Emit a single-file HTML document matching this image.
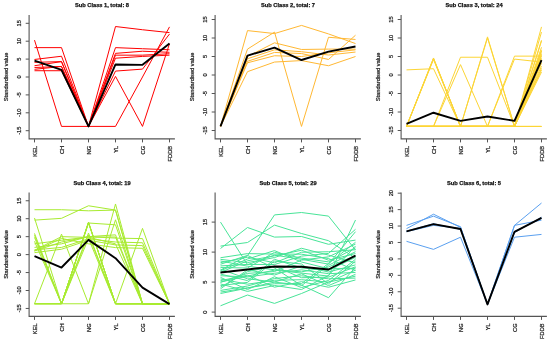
<!DOCTYPE html>
<html><head><meta charset="utf-8"><style>
html,body{margin:0;padding:0;background:#fff;}
svg{display:block;font-family:"Liberation Sans", sans-serif;will-change:transform;}
</style></head><body>
<svg width="550" height="342" viewBox="0 0 550 342">
<rect width="550" height="342" fill="#fff"/>
<g fill="none" stroke="#FF0000" stroke-width="1.0" stroke-linejoin="round"><polyline points="34.50,40.13 61.50,126.40 88.50,126.40 115.50,126.40 142.50,77.00 169.50,26.88"/><polyline points="34.50,47.64 61.50,47.64 88.50,126.40 115.50,47.64 142.50,48.72 169.50,49.79"/><polyline points="34.50,59.46 61.50,56.24 88.50,126.40 115.50,26.52 142.50,29.74 169.50,32.61"/><polyline points="34.50,62.32 61.50,61.61 88.50,126.40 115.50,53.37 142.50,51.22 169.50,52.30"/><polyline points="34.50,65.72 61.50,61.61 88.50,126.40 115.50,55.16 142.50,55.16 169.50,53.73"/><polyline points="34.50,67.51 61.50,66.44 88.50,126.40 115.50,58.20 142.50,56.41 169.50,55.16"/><polyline points="34.50,69.30 61.50,66.44 88.50,126.40 115.50,71.09 142.50,69.12 169.50,34.04"/><polyline points="34.50,70.73 61.50,70.73 88.50,126.40 115.50,76.39 142.50,126.40 169.50,43.71"/></g>
<polyline points="34.50,60.71 61.50,69.84 88.50,126.40 115.50,64.47 142.50,64.83 169.50,43.53" fill="none" stroke="#000" stroke-width="1.9" stroke-linejoin="round"/>
<path d="M29.10,15.00 V138.90 H174.90" fill="none" stroke="#555" stroke-width="1.1"/>
<path d="M25.70,130.70 H29.10 M25.70,112.80 H29.10 M25.70,94.90 H29.10 M25.70,77.00 H29.10 M25.70,59.10 H29.10 M25.70,41.20 H29.10 M25.70,23.30 H29.10 M34.50,138.90 V142.40 M61.50,138.90 V142.40 M88.50,138.90 V142.40 M115.50,138.90 V142.40 M142.50,138.90 V142.40 M169.50,138.90 V142.40" fill="none" stroke="#555" stroke-width="1.0"/>
<g font-size="5.7" text-anchor="middle" fill="#222" stroke="#222" stroke-width="0.22"><text transform="translate(21.10,130.70) rotate(-90)">-15</text><text transform="translate(21.10,112.80) rotate(-90)">-10</text><text transform="translate(21.10,94.90) rotate(-90)">-5</text><text transform="translate(21.10,77.00) rotate(-90)">0</text><text transform="translate(21.10,59.10) rotate(-90)">5</text><text transform="translate(21.10,41.20) rotate(-90)">10</text><text transform="translate(21.10,23.30) rotate(-90)">15</text></g>
<g font-size="5.7" text-anchor="end" fill="#222" stroke="#222" stroke-width="0.22"><text transform="translate(36.50,145.90) rotate(-90)">KEL</text><text transform="translate(63.50,145.90) rotate(-90)">CH</text><text transform="translate(90.50,145.90) rotate(-90)">NG</text><text transform="translate(117.50,145.90) rotate(-90)">YL</text><text transform="translate(144.50,145.90) rotate(-90)">CG</text><text transform="translate(171.50,145.90) rotate(-90)">FDDB</text></g>
<text transform="translate(7.90,76.95) rotate(-90)" font-size="5.7" text-anchor="middle" fill="#222" stroke="#222" stroke-width="0.22">Standardised value</text>
<text x="102.00" y="7.00" font-size="5.7" font-weight="bold" text-anchor="middle" fill="#111" stroke="#111" stroke-width="0.25">Sub Class 1, total: 8</text>
<g fill="none" stroke="#FFB833" stroke-width="1.0" stroke-linejoin="round"><polyline points="220.50,126.43 247.50,30.60 274.50,33.56 301.50,25.42 328.50,33.93 355.50,43.55"/><polyline points="220.50,126.43 247.50,49.10 274.50,32.08 301.50,126.43 328.50,37.26 355.50,39.48"/><polyline points="220.50,126.43 247.50,56.50 274.50,42.81 301.50,49.47 328.50,49.10 355.50,49.10"/><polyline points="220.50,126.43 247.50,58.72 274.50,49.84 301.50,51.69 328.50,55.02 355.50,52.06"/><polyline points="220.50,126.43 247.50,61.31 274.50,52.43 301.50,53.54 328.50,59.46 355.50,35.23"/><polyline points="220.50,126.43 247.50,62.79 274.50,55.76 301.50,56.50 328.50,52.80 355.50,49.84"/><polyline points="220.50,126.43 247.50,71.67 274.50,62.05 301.50,60.57 328.50,65.75 355.50,56.50"/></g>
<polyline points="220.50,126.43 247.50,55.58 274.50,47.62 301.50,60.02 328.50,51.69 355.50,46.51" fill="none" stroke="#000" stroke-width="1.9" stroke-linejoin="round"/>
<path d="M215.10,15.00 V138.90 H360.90" fill="none" stroke="#555" stroke-width="1.1"/>
<path d="M211.70,130.50 H215.10 M211.70,112.00 H215.10 M211.70,93.50 H215.10 M211.70,75.00 H215.10 M211.70,56.50 H215.10 M211.70,38.00 H215.10 M211.70,19.50 H215.10 M220.50,138.90 V142.40 M247.50,138.90 V142.40 M274.50,138.90 V142.40 M301.50,138.90 V142.40 M328.50,138.90 V142.40 M355.50,138.90 V142.40" fill="none" stroke="#555" stroke-width="1.0"/>
<g font-size="5.7" text-anchor="middle" fill="#222" stroke="#222" stroke-width="0.22"><text transform="translate(207.10,130.50) rotate(-90)">-15</text><text transform="translate(207.10,112.00) rotate(-90)">-10</text><text transform="translate(207.10,93.50) rotate(-90)">-5</text><text transform="translate(207.10,75.00) rotate(-90)">0</text><text transform="translate(207.10,56.50) rotate(-90)">5</text><text transform="translate(207.10,38.00) rotate(-90)">10</text><text transform="translate(207.10,19.50) rotate(-90)">15</text></g>
<g font-size="5.7" text-anchor="end" fill="#222" stroke="#222" stroke-width="0.22"><text transform="translate(222.50,145.90) rotate(-90)">KEL</text><text transform="translate(249.50,145.90) rotate(-90)">CH</text><text transform="translate(276.50,145.90) rotate(-90)">NG</text><text transform="translate(303.50,145.90) rotate(-90)">YL</text><text transform="translate(330.50,145.90) rotate(-90)">CG</text><text transform="translate(357.50,145.90) rotate(-90)">FDDB</text></g>
<text transform="translate(193.90,76.95) rotate(-90)" font-size="5.7" text-anchor="middle" fill="#222" stroke="#222" stroke-width="0.22">Standardised value</text>
<text x="288.00" y="7.00" font-size="5.7" font-weight="bold" text-anchor="middle" fill="#111" stroke="#111" stroke-width="0.25">Sub Class 2, total: 7</text>
<g fill="none" stroke="#FCD535" stroke-width="1.0" stroke-linejoin="round"><polyline points="406.50,69.89 433.50,68.71 460.50,126.43 487.50,126.43 514.50,126.43 541.50,58.35"/><polyline points="406.50,126.43 433.50,57.98 460.50,126.43 487.50,126.43 514.50,126.43 541.50,26.90"/><polyline points="406.50,126.43 433.50,58.35 460.50,126.43 487.50,126.43 514.50,126.43 541.50,40.96"/><polyline points="406.50,126.43 433.50,58.72 460.50,126.43 487.50,126.43 514.50,126.43 541.50,54.65"/><polyline points="406.50,126.43 433.50,59.46 460.50,126.43 487.50,126.43 514.50,126.43 541.50,66.12"/><polyline points="406.50,126.43 433.50,126.43 460.50,57.24 487.50,57.24 514.50,126.43 541.50,32.08"/><polyline points="406.50,126.43 433.50,126.43 460.50,64.64 487.50,126.43 514.50,126.43 541.50,70.00"/><polyline points="406.50,126.43 433.50,126.43 460.50,126.43 487.50,36.89 514.50,126.43 541.50,50.95"/><polyline points="406.50,126.43 433.50,126.43 460.50,126.43 487.50,38.00 514.50,126.43 541.50,60.57"/><polyline points="406.50,126.43 433.50,126.43 460.50,126.43 487.50,126.43 514.50,56.13 541.50,56.13"/><polyline points="406.50,126.43 433.50,126.43 460.50,126.43 487.50,126.43 514.50,59.09 541.50,62.05"/><polyline points="406.50,126.43 433.50,126.43 460.50,126.43 487.50,126.43 514.50,126.43 541.50,126.43"/><polyline points="406.50,126.43 433.50,126.43 460.50,126.43 487.50,126.43 514.50,126.43 541.50,126.43"/><polyline points="406.50,126.43 433.50,126.43 460.50,126.43 487.50,126.43 514.50,126.43 541.50,126.43"/><polyline points="406.50,126.43 433.50,126.43 460.50,126.43 487.50,126.43 514.50,126.43 541.50,40.22"/><polyline points="406.50,126.43 433.50,126.43 460.50,126.43 487.50,126.43 514.50,126.43 541.50,47.25"/><polyline points="406.50,126.43 433.50,126.43 460.50,126.43 487.50,126.43 514.50,126.43 541.50,49.84"/><polyline points="406.50,126.43 433.50,126.43 460.50,126.43 487.50,126.43 514.50,126.43 541.50,50.95"/><polyline points="406.50,126.43 433.50,126.43 460.50,126.43 487.50,126.43 514.50,126.43 541.50,53.54"/><polyline points="406.50,126.43 433.50,126.43 460.50,126.43 487.50,126.43 514.50,126.43 541.50,56.13"/><polyline points="406.50,126.43 433.50,126.43 460.50,126.43 487.50,126.43 514.50,126.43 541.50,59.46"/><polyline points="406.50,126.43 433.50,126.43 460.50,126.43 487.50,126.43 514.50,126.43 541.50,63.16"/><polyline points="406.50,126.43 433.50,126.43 460.50,126.43 487.50,126.43 514.50,126.43 541.50,68.34"/><polyline points="406.50,126.43 433.50,126.43 460.50,126.43 487.50,126.43 514.50,126.43 541.50,72.04"/></g>
<polyline points="406.50,123.84 433.50,112.74 460.50,120.88 487.50,116.44 514.50,120.88 541.50,60.02" fill="none" stroke="#000" stroke-width="1.9" stroke-linejoin="round"/>
<path d="M401.10,15.00 V138.90 H546.90" fill="none" stroke="#555" stroke-width="1.1"/>
<path d="M397.70,130.50 H401.10 M397.70,112.00 H401.10 M397.70,93.50 H401.10 M397.70,75.00 H401.10 M397.70,56.50 H401.10 M397.70,38.00 H401.10 M397.70,19.50 H401.10 M406.50,138.90 V142.40 M433.50,138.90 V142.40 M460.50,138.90 V142.40 M487.50,138.90 V142.40 M514.50,138.90 V142.40 M541.50,138.90 V142.40" fill="none" stroke="#555" stroke-width="1.0"/>
<g font-size="5.7" text-anchor="middle" fill="#222" stroke="#222" stroke-width="0.22"><text transform="translate(393.10,130.50) rotate(-90)">-15</text><text transform="translate(393.10,112.00) rotate(-90)">-10</text><text transform="translate(393.10,93.50) rotate(-90)">-5</text><text transform="translate(393.10,75.00) rotate(-90)">0</text><text transform="translate(393.10,56.50) rotate(-90)">5</text><text transform="translate(393.10,38.00) rotate(-90)">10</text><text transform="translate(393.10,19.50) rotate(-90)">15</text></g>
<g font-size="5.7" text-anchor="end" fill="#222" stroke="#222" stroke-width="0.22"><text transform="translate(408.50,145.90) rotate(-90)">KEL</text><text transform="translate(435.50,145.90) rotate(-90)">CH</text><text transform="translate(462.50,145.90) rotate(-90)">NG</text><text transform="translate(489.50,145.90) rotate(-90)">YL</text><text transform="translate(516.50,145.90) rotate(-90)">CG</text><text transform="translate(543.50,145.90) rotate(-90)">FDDB</text></g>
<text transform="translate(379.90,76.95) rotate(-90)" font-size="5.7" text-anchor="middle" fill="#222" stroke="#222" stroke-width="0.22">Standardised value</text>
<text x="474.00" y="7.00" font-size="5.7" font-weight="bold" text-anchor="middle" fill="#111" stroke="#111" stroke-width="0.25">Sub Class 3, total: 24</text>
<g fill="none" stroke="#A8EB30" stroke-width="1.0" stroke-linejoin="round"><polyline points="34.50,303.78 61.50,303.78 88.50,303.78 115.50,203.98 142.50,303.78 169.50,303.78"/><polyline points="34.50,303.78 61.50,303.78 88.50,222.29 115.50,303.78 142.50,228.39 169.50,303.78"/><polyline points="34.50,303.78 61.50,303.78 88.50,222.29 115.50,303.78 142.50,303.78 169.50,303.78"/><polyline points="34.50,303.78 61.50,303.78 88.50,223.01 115.50,224.80 142.50,303.78 169.50,303.78"/><polyline points="34.50,303.78 61.50,234.14 88.50,303.78 115.50,219.78 142.50,303.78 169.50,303.78"/><polyline points="34.50,217.98 61.50,303.78 88.50,222.29 115.50,303.78 142.50,303.78 169.50,303.78"/><polyline points="34.50,233.42 61.50,303.78 88.50,223.01 115.50,303.78 142.50,303.78 169.50,303.78"/><polyline points="34.50,235.21 61.50,303.78 88.50,234.85 115.50,303.78 142.50,303.78 169.50,303.78"/><polyline points="34.50,237.37 61.50,303.78 88.50,238.44 115.50,303.78 142.50,303.78 169.50,303.78"/><polyline points="34.50,241.32 61.50,303.78 88.50,233.06 115.50,303.78 142.50,303.78 169.50,303.78"/><polyline points="34.50,209.72 61.50,209.72 88.50,210.80 115.50,210.08 142.50,303.78 169.50,303.78"/><polyline points="34.50,220.14 61.50,218.34 88.50,205.78 115.50,210.08 142.50,303.78 169.50,303.78"/><polyline points="34.50,243.83 61.50,240.24 88.50,237.01 115.50,237.01 142.50,303.78 169.50,303.78"/><polyline points="34.50,247.42 61.50,243.83 88.50,236.65 115.50,238.09 142.50,238.62 169.50,303.78"/><polyline points="34.50,249.93 61.50,247.42 88.50,238.80 115.50,242.03 142.50,242.75 169.50,303.78"/><polyline points="34.50,252.63 61.50,249.22 88.50,240.24 115.50,244.91 142.50,245.62 169.50,303.78"/><polyline points="34.50,251.01 61.50,238.44 88.50,243.83 115.50,247.60 142.50,248.32 169.50,303.78"/><polyline points="34.50,251.01 61.50,242.03 88.50,236.65 115.50,234.85 142.50,303.78 169.50,303.78"/><polyline points="34.50,250.29 61.50,236.65 88.50,237.37 115.50,243.83 142.50,303.78 169.50,303.78"/></g>
<polyline points="34.50,256.04 61.50,267.52 88.50,239.88 115.50,258.19 142.50,287.63 169.50,304.14" fill="none" stroke="#000" stroke-width="1.9" stroke-linejoin="round"/>
<path d="M29.10,192.50 V316.40 H174.90" fill="none" stroke="#555" stroke-width="1.1"/>
<path d="M25.70,308.45 H29.10 M25.70,290.50 H29.10 M25.70,272.55 H29.10 M25.70,254.60 H29.10 M25.70,236.65 H29.10 M25.70,218.70 H29.10 M25.70,200.75 H29.10 M34.50,316.40 V319.90 M61.50,316.40 V319.90 M88.50,316.40 V319.90 M115.50,316.40 V319.90 M142.50,316.40 V319.90 M169.50,316.40 V319.90" fill="none" stroke="#555" stroke-width="1.0"/>
<g font-size="5.7" text-anchor="middle" fill="#222" stroke="#222" stroke-width="0.22"><text transform="translate(21.10,308.45) rotate(-90)">-15</text><text transform="translate(21.10,290.50) rotate(-90)">-10</text><text transform="translate(21.10,272.55) rotate(-90)">-5</text><text transform="translate(21.10,254.60) rotate(-90)">0</text><text transform="translate(21.10,236.65) rotate(-90)">5</text><text transform="translate(21.10,218.70) rotate(-90)">10</text><text transform="translate(21.10,200.75) rotate(-90)">15</text></g>
<g font-size="5.7" text-anchor="end" fill="#222" stroke="#222" stroke-width="0.22"><text transform="translate(36.50,323.40) rotate(-90)">KEL</text><text transform="translate(63.50,323.40) rotate(-90)">CH</text><text transform="translate(90.50,323.40) rotate(-90)">NG</text><text transform="translate(117.50,323.40) rotate(-90)">YL</text><text transform="translate(144.50,323.40) rotate(-90)">CG</text><text transform="translate(171.50,323.40) rotate(-90)">FDDB</text></g>
<text transform="translate(7.90,254.45) rotate(-90)" font-size="5.7" text-anchor="middle" fill="#222" stroke="#222" stroke-width="0.22">Standardised value</text>
<text x="102.00" y="184.50" font-size="5.7" font-weight="bold" text-anchor="middle" fill="#111" stroke="#111" stroke-width="0.25">Sub Class 4, total: 19</text>
<g fill="none" stroke="#48E498" stroke-width="1.0" stroke-linejoin="round"><polyline points="220.50,222.10 247.50,264.70 274.50,255.10 301.50,259.30 328.50,264.10 355.50,231.70"/><polyline points="220.50,246.10 247.50,242.50 274.50,225.10 301.50,233.50 328.50,240.70 355.50,258.10"/><polyline points="220.50,248.50 247.50,227.50 274.50,237.10 301.50,236.50 328.50,244.30 355.50,240.10"/><polyline points="220.50,270.10 247.50,255.70 274.50,214.90 301.50,212.50 328.50,216.10 355.50,250.00"/><polyline points="220.50,305.80 247.50,295.00 274.50,303.40 301.50,293.50 328.50,282.10 355.50,270.10"/><polyline points="220.50,282.10 247.50,276.10 274.50,270.10 301.50,273.10 328.50,276.10 355.50,220.00"/><polyline points="220.50,293.50 247.50,288.10 274.50,282.10 301.50,285.10 328.50,297.70 355.50,267.10"/><polyline points="220.50,257.72 247.50,253.60 274.50,254.08 301.50,254.20 328.50,258.52 355.50,270.52"/><polyline points="220.50,259.35 247.50,262.60 274.50,257.56 301.50,248.26 328.50,255.10 355.50,262.96"/><polyline points="220.50,260.99 247.50,266.20 274.50,269.80 301.50,271.84 328.50,266.98 355.50,255.46"/><polyline points="220.50,262.63 247.50,257.20 274.50,262.78 301.50,252.22 328.50,251.74 355.50,249.76"/><polyline points="220.50,264.26 247.50,255.40 274.50,268.00 301.50,285.58 328.50,265.30 355.50,251.68"/><polyline points="220.50,265.90 247.50,264.40 274.50,264.52 301.50,256.12 328.50,253.42 355.50,229.30"/><polyline points="220.50,267.54 247.50,268.00 274.50,252.34 301.50,258.10 328.50,261.88 355.50,247.90"/><polyline points="220.50,269.17 247.50,278.80 274.50,281.98 301.50,273.82 328.50,285.58 355.50,274.30"/><polyline points="220.50,270.81 247.50,259.00 274.50,250.60 301.50,262.00 328.50,268.66 355.50,268.66"/><polyline points="220.50,272.45 247.50,260.80 274.50,255.82 301.50,250.24 328.50,260.20 355.50,253.54"/><polyline points="220.50,274.08 247.50,280.60 274.50,259.30 301.50,267.94 328.50,270.34 355.50,257.32"/><polyline points="220.50,275.72 247.50,277.00 274.50,273.28 301.50,269.86 328.50,273.70 355.50,272.44"/><polyline points="220.50,277.35 247.50,289.60 274.50,276.76 301.50,287.56 328.50,280.48 355.50,259.24"/><polyline points="220.50,278.99 247.50,284.20 274.50,280.24 301.50,279.70 328.50,282.16 355.50,276.16"/><polyline points="220.50,280.63 247.50,275.20 274.50,287.20 301.50,281.68 328.50,287.26 355.50,279.94"/><polyline points="220.50,282.26 247.50,273.40 274.50,271.54 301.50,260.08 328.50,256.84 355.50,244.12"/><polyline points="220.50,283.90 247.50,291.40 274.50,285.46 301.50,289.54 328.50,275.44 355.50,246.04"/><polyline points="220.50,285.54 247.50,282.40 274.50,261.04 301.50,263.98 328.50,283.90 355.50,261.10"/><polyline points="220.50,287.17 247.50,271.60 274.50,266.26 301.50,277.72 328.50,277.12 355.50,266.74"/><polyline points="220.50,288.81 247.50,269.80 274.50,275.02 301.50,265.96 328.50,272.02 355.50,264.88"/><polyline points="220.50,290.45 247.50,286.00 274.50,278.50 301.50,275.80 328.50,278.80 355.50,278.08"/><polyline points="220.50,292.08 247.50,287.80 274.50,283.72 301.50,283.60 328.50,263.56 355.50,242.26"/></g>
<polyline points="220.50,272.50 247.50,269.50 274.50,266.50 301.50,266.80 328.50,269.50 355.50,255.70" fill="none" stroke="#000" stroke-width="1.9" stroke-linejoin="round"/>
<path d="M215.10,192.50 V316.40 H360.90" fill="none" stroke="#555" stroke-width="1.1"/>
<path d="M211.70,312.10 H215.10 M211.70,282.10 H215.10 M211.70,252.10 H215.10 M211.70,222.10 H215.10 M220.50,316.40 V319.90 M247.50,316.40 V319.90 M274.50,316.40 V319.90 M301.50,316.40 V319.90 M328.50,316.40 V319.90 M355.50,316.40 V319.90" fill="none" stroke="#555" stroke-width="1.0"/>
<g font-size="5.7" text-anchor="middle" fill="#222" stroke="#222" stroke-width="0.22"><text transform="translate(207.10,312.10) rotate(-90)">0</text><text transform="translate(207.10,282.10) rotate(-90)">5</text><text transform="translate(207.10,252.10) rotate(-90)">10</text><text transform="translate(207.10,222.10) rotate(-90)">15</text></g>
<g font-size="5.7" text-anchor="end" fill="#222" stroke="#222" stroke-width="0.22"><text transform="translate(222.50,323.40) rotate(-90)">KEL</text><text transform="translate(249.50,323.40) rotate(-90)">CH</text><text transform="translate(276.50,323.40) rotate(-90)">NG</text><text transform="translate(303.50,323.40) rotate(-90)">YL</text><text transform="translate(330.50,323.40) rotate(-90)">CG</text><text transform="translate(357.50,323.40) rotate(-90)">FDDB</text></g>
<text transform="translate(193.90,254.45) rotate(-90)" font-size="5.7" text-anchor="middle" fill="#222" stroke="#222" stroke-width="0.22">Standardised value</text>
<text x="288.00" y="184.50" font-size="5.7" font-weight="bold" text-anchor="middle" fill="#111" stroke="#111" stroke-width="0.25">Sub Class 5, total: 29</text>
<g fill="none" stroke="#5AA0F0" stroke-width="1.0" stroke-linejoin="round"><polyline points="406.50,225.38 433.50,216.18 460.50,226.70 487.50,304.41 514.50,225.38 541.50,220.13"/><polyline points="406.50,228.67 433.50,214.21 460.50,227.35 487.50,304.41 514.50,225.38 541.50,203.04"/><polyline points="406.50,231.63 433.50,225.38 460.50,228.34 487.50,304.41 514.50,232.61 541.50,217.17"/><polyline points="406.50,241.32 433.50,249.37 460.50,237.21 487.50,304.41 514.50,237.21 541.50,234.42"/><polyline points="406.50,231.13 433.50,223.74 460.50,229.33 487.50,304.41 514.50,231.30 541.50,218.48"/></g>
<polyline points="406.50,231.30 433.50,224.07 460.50,229.00 487.50,304.41 514.50,231.79 541.50,217.82" fill="none" stroke="#000" stroke-width="1.9" stroke-linejoin="round"/>
<path d="M401.10,192.50 V316.40 H546.90" fill="none" stroke="#555" stroke-width="1.1"/>
<path d="M397.70,308.19 H401.10 M397.70,291.76 H401.10 M397.70,275.33 H401.10 M397.70,258.90 H401.10 M397.70,242.47 H401.10 M397.70,226.04 H401.10 M397.70,209.61 H401.10 M397.70,193.18 H401.10 M406.50,316.40 V319.90 M433.50,316.40 V319.90 M460.50,316.40 V319.90 M487.50,316.40 V319.90 M514.50,316.40 V319.90 M541.50,316.40 V319.90" fill="none" stroke="#555" stroke-width="1.0"/>
<g font-size="5.7" text-anchor="middle" fill="#222" stroke="#222" stroke-width="0.22"><text transform="translate(393.10,308.19) rotate(-90)">-15</text><text transform="translate(393.10,291.76) rotate(-90)">-10</text><text transform="translate(393.10,275.33) rotate(-90)">-5</text><text transform="translate(393.10,258.90) rotate(-90)">0</text><text transform="translate(393.10,242.47) rotate(-90)">5</text><text transform="translate(393.10,226.04) rotate(-90)">10</text><text transform="translate(393.10,209.61) rotate(-90)">15</text><text transform="translate(393.10,193.18) rotate(-90)">20</text></g>
<g font-size="5.7" text-anchor="end" fill="#222" stroke="#222" stroke-width="0.22"><text transform="translate(408.50,323.40) rotate(-90)">KEL</text><text transform="translate(435.50,323.40) rotate(-90)">CH</text><text transform="translate(462.50,323.40) rotate(-90)">NG</text><text transform="translate(489.50,323.40) rotate(-90)">YL</text><text transform="translate(516.50,323.40) rotate(-90)">CG</text><text transform="translate(543.50,323.40) rotate(-90)">FDDB</text></g>
<text transform="translate(379.90,254.45) rotate(-90)" font-size="5.7" text-anchor="middle" fill="#222" stroke="#222" stroke-width="0.22">Standardised value</text>
<text x="474.00" y="184.50" font-size="5.7" font-weight="bold" text-anchor="middle" fill="#111" stroke="#111" stroke-width="0.25">Sub Class 6, total: 5</text>
</svg>
</body></html>
